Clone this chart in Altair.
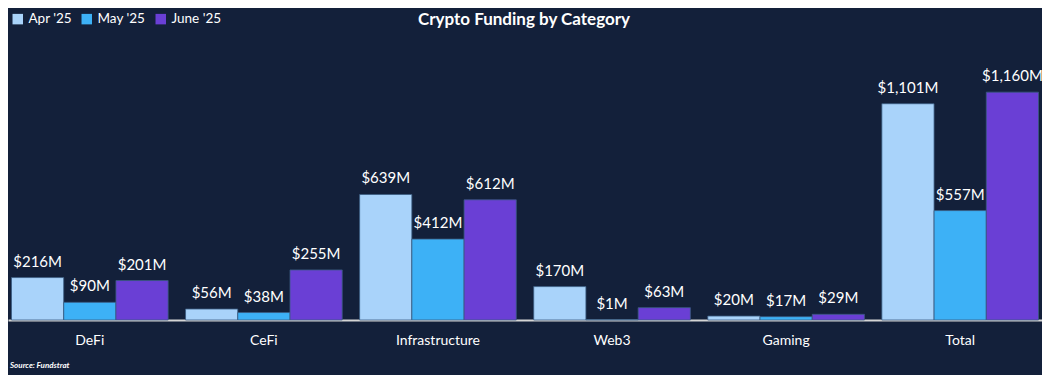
import altair as alt
import pandas as pd

categories = ["DeFi", "CeFi", "Infrastructure", "Web3", "Gaming", "Total"]
months = ["Apr '25", "May '25", "June '25"]
apr = [216, 56, 639, 170, 20, 1101]
may = [90, 38, 412, 1, 17, 557]
june = [201, 255, 612, 63, 29, 1160]
colors = ["#a9d3fa", "#3db1f6", "#6a3fd5"]

rows = []
for m, vals in zip(months, [apr, may, june]):
    for c, v in zip(categories, vals):
        rows.append({"category": c, "month": m, "value": v, "label": f"${v:,}M"})
df = pd.DataFrame(rows)

BG = "#13203a"
FONT = "Lato"

x_enc = alt.X("category:N", sort=categories, title=None,
              scale=alt.Scale(paddingInner=0.1, paddingOuter=0.02),
              axis=alt.Axis(labelAngle=0, labelColor="white", labelFontSize=14,
                            labelFont=FONT, domainColor="#d4d4d4", domainWidth=2,
                            ticks=False, labelPadding=13, grid=False))
y_enc = alt.Y("value:Q", scale=alt.Scale(domain=[0, 1400]), axis=None)
off = alt.XOffset("month:N", sort=months)

bars = alt.Chart(df).mark_bar(stroke="#3a5a80", strokeWidth=0.8).encode(
    x=x_enc, y=y_enc, xOffset=off,
    color=alt.Color("month:N", sort=months,
                    scale=alt.Scale(domain=months, range=colors),
                    legend=alt.Legend(title=None, orient="none", legendX=3, legendY=-33,
                                      direction="horizontal", symbolType="square",
                                      symbolSize=110, symbolStrokeWidth=0,
                                      labelColor="white", labelFontSize=13.5,
                                      labelFont=FONT, columnPadding=8,
                                      symbolOffset=0)),
)

labels = alt.Chart(df).mark_text(dy=-8, baseline="bottom", color="white",
                                 fontSize=15, font=FONT).encode(
    x=x_enc, y=y_enc, xOffset=off, text="label:N"
)

source = alt.Chart(pd.DataFrame({"t": ["Source: Fundstrat"]})).mark_text(
    align="left", baseline="middle", fontSize=8, fontStyle="italic",
    fontWeight="bold", color="white", font=FONT
).encode(x=alt.value(2), y=alt.value(321), text="t:N")

title = alt.Chart(pd.DataFrame({"t": ["Crypto Funding by Category"]})).mark_text(
    align="center", baseline="middle", fontSize=17, fontWeight="bold",
    color="white", font=FONT
).encode(x=alt.value(516), y=alt.value(-25), text="t:N")

chart = alt.layer(bars, labels, source, title).properties(
    width=1034, height=275,
    background=BG,
    padding={"left": 0, "right": 0, "top": 37, "bottom": 55},
    autosize=alt.AutoSizeParams(type="none"),
).configure_view(stroke=None)

chart.save("out.html", embed_options={"renderer": "svg", "actions": False})
